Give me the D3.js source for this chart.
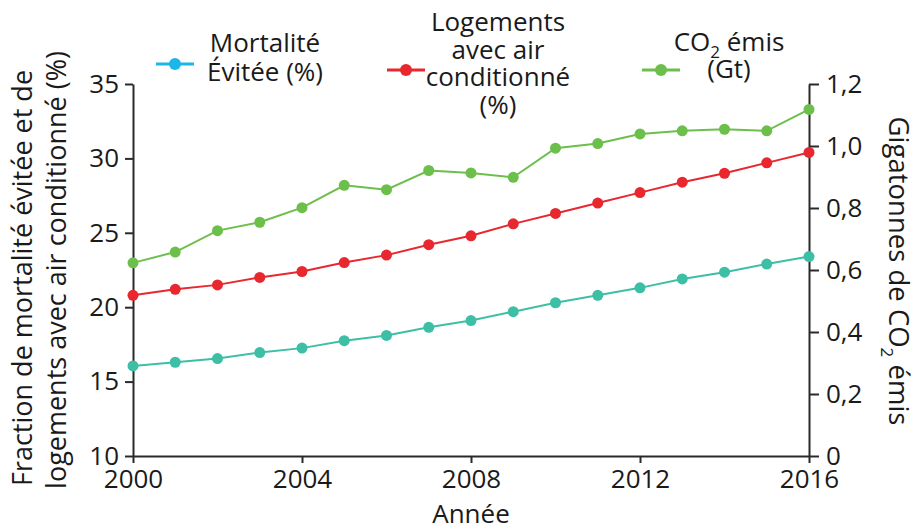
<!DOCTYPE html>
<html>
<head>
<meta charset="utf-8">
<script src="https://cdn.jsdelivr.net/npm/d3@7"></script>
<style>
  html, body { margin: 0; padding: 0; background: #ffffff; }
  svg text { font-family: "Open Sans", "Noto Sans", sans-serif; fill: #1a1a1a; }
</style>
</head>
<body>
<svg id="chart" width="919" height="531"></svg>
<script>
const years = [2000, 2001, 2002, 2003, 2004, 2005, 2006, 2007, 2008, 2009, 2010, 2011, 2012, 2013, 2014, 2015, 2016];
const mortaliteEvitee = [16.05, 16.3, 16.55, 16.95, 17.25, 17.75, 18.1, 18.65, 19.1, 19.7, 20.3, 20.8, 21.3, 21.9, 22.35, 22.9, 23.4];
const logementsClim = [20.8, 21.2, 21.5, 22.0, 22.4, 23.0, 23.5, 24.2, 24.8, 25.6, 26.3, 27.0, 27.7, 28.4, 29.0, 29.7, 30.4];
const co2Emis = [0.623, 0.658, 0.727, 0.754, 0.801, 0.873, 0.859, 0.921, 0.913, 0.899, 0.993, 1.008, 1.039, 1.049, 1.054, 1.049, 1.118];
const xTicks = [2000, 2004, 2008, 2012, 2016];
const leftTicks = [10, 15, 20, 25, 30, 35];
const rightTicks = [0, 0.2, 0.4, 0.6, 0.8, 1.0, 1.2];
const rightTickLabels = ["0", "0,2", "0,4", "0,6", "0,8", "1,0", "1,2"];

const colTeal = "#3dbfa6", colCyan = "#1cb6e9", colRed = "#e8272e", colGreen = "#6dbf4b";
const axisCol = "#2a2a2a";

const svg = d3.select("#chart");
const x = d3.scaleLinear().domain([2000, 2016]).range([133, 809]);
const yL = d3.scaleLinear().domain([10, 35]).range([456, 84]);
const yR = d3.scaleLinear().domain([0, 1.2]).range([456, 84]);

// axes
const fmtTick = g => {
  g.selectAll("path.domain").attr("stroke", axisCol).attr("stroke-width", 2);
  g.selectAll(".tick line").attr("stroke", axisCol).attr("stroke-width", 2);
  g.selectAll(".tick text").attr("font-family", "\"Open Sans\", sans-serif").attr("font-size", 26).attr("fill", "#1a1a1a");
};
svg.append("g").attr("transform", "translate(0,456)")
  .call(d3.axisBottom(x).tickValues(xTicks).tickFormat(d3.format("d")).tickSize(7).tickSizeOuter(0).tickPadding(7))
  .call(fmtTick);
svg.append("g").attr("transform", "translate(133,0)")
  .call(d3.axisLeft(yL).tickValues(leftTicks).tickSize(8).tickSizeOuter(0).tickPadding(6))
  .call(fmtTick);
svg.append("g").attr("transform", "translate(809,0)")
  .call(d3.axisRight(yR).tickValues(rightTicks).tickFormat((d, i) => rightTickLabels[i]).tickSize(10).tickSizeOuter(0).tickPadding(7))
  .call(fmtTick);

// series
const series = [
  { vals: mortaliteEvitee, y: yL, col: colTeal },
  { vals: logementsClim, y: yL, col: colRed },
  { vals: co2Emis, y: yR, col: colGreen }
];
series.forEach(s => {
  const line = d3.line().x((d, i) => x(years[i])).y(d => s.y(d));
  svg.append("path").datum(s.vals).attr("d", line).attr("fill", "none")
    .attr("stroke", s.col).attr("stroke-width", 2);
  svg.append("g").selectAll("circle").data(s.vals).join("circle")
    .attr("cx", (d, i) => x(years[i])).attr("cy", d => s.y(d)).attr("r", 5.5)
    .attr("fill", s.col);
});

// axis titles
svg.append("text").attr("transform", "translate(32,278) rotate(-90)")
  .attr("text-anchor", "middle").attr("font-size", 27).text("Fraction de mortalité évitée et de");
svg.append("text").attr("transform", "translate(66,270) rotate(-90)")
  .attr("text-anchor", "middle").attr("font-size", 27).text("logements avec air conditionné (%)");
const rt = svg.append("text").attr("transform", "translate(889,271) rotate(90)")
  .attr("text-anchor", "middle").attr("font-size", 27.5);
rt.append("tspan").text("Gigatonnes de CO");
rt.append("tspan").attr("font-size", 17).attr("dy", 8).text("2");
rt.append("tspan").attr("dy", -8).text(" émis");
svg.append("text").attr("x", 471).attr("y", 523).attr("text-anchor", "middle")
  .attr("font-size", 26).text("Année");

// legend
const legend = [
  { col: colCyan, cx: 175, cy: 64, tx: 265, lines: [["Mortalité", 52], ["Évitée (%)", 81]] },
  { col: colRed, cx: 406, cy: 70, tx: 498, lines: [["Logements", 31], ["avec air", 58.5], ["conditionné", 86], ["(%)", 113.5]] },
  { col: colGreen, cx: 661, cy: 70, tx: 729, lines: [["CO2", 51], ["(Gt)", 78]] }
];
legend.forEach(l => {
  svg.append("line").attr("x1", l.cx - 19).attr("x2", l.cx + 19).attr("y1", l.cy).attr("y2", l.cy)
    .attr("stroke", l.col).attr("stroke-width", 3);
  svg.append("circle").attr("cx", l.cx).attr("cy", l.cy).attr("r", 6).attr("fill", l.col);
  l.lines.forEach(([t, yy]) => {
    const tx = svg.append("text").attr("x", l.tx).attr("y", yy).attr("text-anchor", "middle").attr("font-size", 26);
    if (t === "CO2") {
      tx.append("tspan").text("CO");
      tx.append("tspan").attr("font-size", 17).attr("dy", 7).text("2");
      tx.append("tspan").attr("dy", -7).text(" émis");
    } else {
      tx.text(t);
    }
  });
});
</script>
</body>
</html>
